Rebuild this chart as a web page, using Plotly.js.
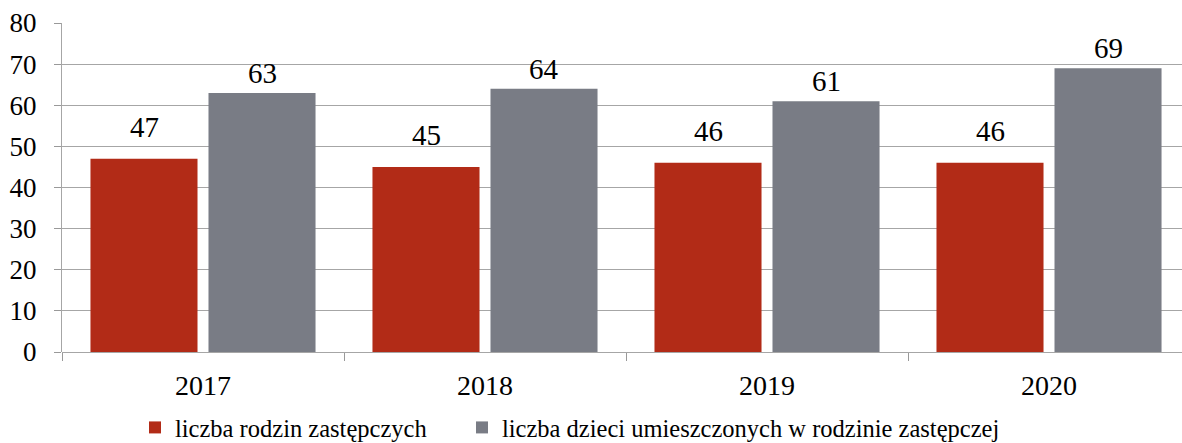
<!DOCTYPE html>
<html>
<head>
<meta charset="utf-8">
<script src="https://cdn.plot.ly/plotly-3.0.1.min.js"></script>
<style>html,body{margin:0;padding:0;background:#fff;}#chart{width:1182px;height:443px;}</style>
</head>
<body>
<div id="chart"></div>
<script>
const years = ['2017', '2018', '2019', '2020'];
const rodziny = [47, 45, 46, 46];
const dzieci = [63, 64, 61, 69];
const seriesNames = ['liczba rodzin zastępczych', 'liczba dzieci umieszczonych w rodzinie zastępczej'];
const colors = ['#B22B17', '#797C85'];

const FONT = 'Liberation Serif';

const traces = [
  {type: 'bar', x: years, y: rodziny, name: seriesNames[0], marker: {color: colors[0]}, legend: 'legend'},
  {type: 'bar', x: years, y: dzieci, name: seriesNames[1], marker: {color: colors[1]}, legend: 'legend2'}
];

// value labels placed through the axes (category serial number i, shifted to the left/right bar)
const annotations = [];
[[rodziny, 0, 14], [dzieci, 1, 2]].forEach(([vals, idx, shift]) => {
  vals.forEach((v, i) => {
    annotations.push({
      x: i, y: v, xref: 'x', yref: 'y', text: String(v), showarrow: false,
      xshift: idx === 0 ? -59 : 59, yshift: shift, yanchor: 'bottom',
      font: {family: FONT, size: 29, color: '#000'}
    });
  });
});

const legendBase = {orientation: 'h', xref: 'container', yref: 'container', xanchor: 'left', yanchor: 'middle',
                    y: 0.035, font: {family: FONT, size: 24.5, color: '#000'}, itemwidth: 30, bgcolor: 'rgba(0,0,0,0)'};

const layout = {
  width: 1182, height: 443,
  margin: {l: 62, r: 0, t: 23, b: 91},
  paper_bgcolor: '#fff', plot_bgcolor: '#fff',
  font: {family: FONT, size: 24, color: '#000'},
  barmode: 'group', bargap: 0.163, bargroupgap: 0.093,
  showlegend: true,
  legend: Object.assign({}, legendBase, {x: 135 / 1182}),
  legend2: Object.assign({}, legendBase, {x: 462 / 1182}),
  annotations: annotations,
  xaxis: {type: 'category', range: [-0.5, 3.4716], ticks: 'outside', tickson: 'boundaries',
          ticklen: 8, tickcolor: '#999', showline: false, showgrid: false, zeroline: false,
          ticklabelstandoff: 14, tickfont: {family: FONT, size: 28}},
  yaxis: {range: [0, 80], dtick: 10, tick0: 0, ticks: 'outside', ticklen: 7, tickcolor: '#999',
          showline: true, linecolor: '#a6a6a6', linewidth: 1, gridcolor: '#a6a6a6', gridwidth: 1,
          zeroline: true, zerolinecolor: '#a6a6a6', ticklabelstandoff: 12,
          tickfont: {family: FONT, size: 27}}
};

Plotly.newPlot('chart', traces, layout, {displayModeBar: false, staticPlot: true});
</script>
</body>
</html>
